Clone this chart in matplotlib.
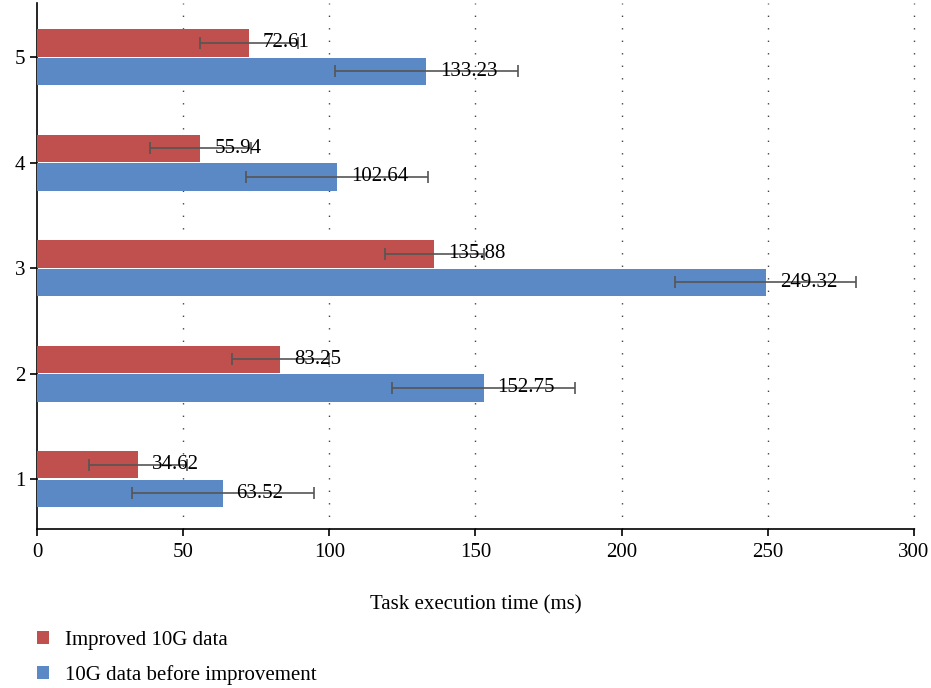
import numpy as np
from matplotlib import pyplot as plt
from matplotlib.patches import Patch

# task execution time per test group (ms)
groups = [1, 2, 3, 4, 5]
improved = [34.62, 83.25, 135.88, 55.94, 72.61]
before = [63.52, 152.75, 249.32, 102.64, 133.23]
improved_err = [16.8, 16.5, 16.9, 17.3, 16.8]
before_err = [31.1, 31.4, 31.0, 31.2, 31.3]

x_ticks = [0, 50, 100, 150, 200, 250, 300]
series_names = ["Improved 10G data", "10G data before improvement"]

RED = "#C0504D"
BLUE = "#5B89C6"
ERR_COLOR = "#555555"
BAR_H = 0.26
OFFSET = 0.135
FS = 15


def main() -> None:
    plt.rcParams["font.family"] = ["Liberation Serif", "DejaVu Serif"]
    plt.rcParams["font.size"] = FS

    fig = plt.figure(figsize=(9.31, 6.88), dpi=100)
    ax = fig.add_axes([0.0397, 0.2311, 0.942, 0.7639])

    pos = np.array(groups, dtype=float)
    err_kw = dict(ecolor=ERR_COLOR, elinewidth=1.2, capsize=4, capthick=1.2)
    ax.barh(pos + OFFSET, improved, height=BAR_H, color=RED, xerr=improved_err,
            error_kw=err_kw, zorder=3)
    ax.barh(pos - OFFSET, before, height=BAR_H, color=BLUE, xerr=before_err,
            error_kw=err_kw, zorder=3)

    for y, v in zip(pos + OFFSET, improved):
        ax.annotate(f"{v:.2f}", (v, y), xytext=(10, 0), textcoords="offset points",
                    va="center", ha="left", fontsize=FS, zorder=4)
    for y, v in zip(pos - OFFSET, before):
        ax.annotate(f"{v:.2f}", (v, y), xytext=(10, 0), textcoords="offset points",
                    va="center", ha="left", fontsize=FS, zorder=4)

    ax.set_xlim(0, 300)
    ax.set_ylim(0.526, 5.51)
    ax.set_xticks(x_ticks)
    ax.set_yticks(groups)
    for gx in x_ticks[1:]:
        ax.axvline(gx, color="#444444", linewidth=1.0, linestyle=(0, (1, 8)),
                   zorder=1, clip_on=False)

    ax.spines["top"].set_visible(False)
    ax.spines["right"].set_visible(False)
    ax.spines["left"].set_linewidth(1.2)
    ax.spines["bottom"].set_linewidth(1.2)
    ax.tick_params(axis="both", direction="out", length=5, width=1.2, labelsize=FS)
    ax.tick_params(axis="x", pad=5)
    ax.set_xlabel("Task execution time (ms)", fontsize=FS, labelpad=24)

    handles = [Patch(facecolor=RED), Patch(facecolor=BLUE)]
    fig.legend(handles, series_names, loc="lower left", bbox_to_anchor=(0.0397, 0.005),
               frameon=False, borderpad=0, borderaxespad=0, handlelength=0.6,
               handleheight=0.6, handletextpad=0.75, labelspacing=0.72, fontsize=FS)

    fig.savefig("out.png", dpi=100)
    plt.close(fig)


if __name__ == "__main__":
    main()
